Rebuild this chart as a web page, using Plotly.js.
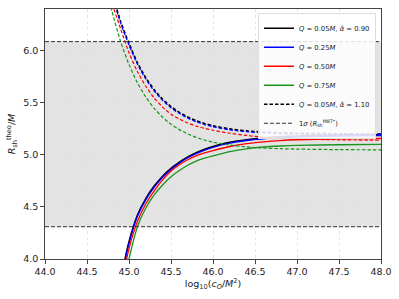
<!DOCTYPE html>
<html><head><meta charset="utf-8">
<script src="https://cdn.plot.ly/plotly-3.0.1.min.js"></script>
<style>html,body{margin:0;padding:0;background:#fff}#c{width:399px;height:299px}</style>
</head><body><div id="c"></div>
<script>
var xs = [44.8, 44.9, 45.0, 45.1, 45.2, 45.3, 45.4, 45.5, 45.6, 45.7, 45.8, 45.9, 46.0, 46.2, 46.4, 46.6, 46.8, 47.0, 47.5, 48.0];
var xsGreenDash = [44.7, 44.8, 44.9, 45.0, 45.1, 45.2, 45.3, 45.4, 45.5, 45.6, 45.7, 45.8, 45.9, 46.0, 46.2, 46.4, 46.6, 46.8, 47.0, 47.5, 48.0];

// solid curves (alpha = 0.90)
var blackSolid = [3.30, 3.785, 4.165, 4.42, 4.58, 4.70, 4.795, 4.87, 4.93, 4.98, 5.02, 5.053, 5.08, 5.12, 5.145, 5.162, 5.173, 5.18, 5.189, 5.193];
var blueSolid  = [3.28, 3.77, 4.15, 4.41, 4.57, 4.69, 4.785, 4.86, 4.921, 4.972, 5.012, 5.045, 5.072, 5.112, 5.137, 5.154, 5.165, 5.172, 5.181, 5.185];
var redSolid   = [3.20, 3.70, 4.10, 4.36, 4.53, 4.655, 4.76, 4.845, 4.905, 4.953, 4.99, 5.018, 5.041, 5.08, 5.108, 5.125, 5.137, 5.145, 5.153, 5.157];
var greenSolid = [3.10, 3.60, 4.00, 4.31, 4.49, 4.615, 4.71, 4.79, 4.85, 4.90, 4.94, 4.968, 4.99, 5.03, 5.058, 5.075, 5.085, 5.091, 5.097, 5.10];

// dashed curves (alpha = 1.10)
var blackDash = [6.55, 6.28, 6.07, 5.885, 5.74, 5.625, 5.534, 5.463, 5.407, 5.363, 5.328, 5.301, 5.279, 5.249, 5.230, 5.219, 5.212, 5.207, 5.202, 5.200];
var blueDash  = [6.535, 6.265, 6.055, 5.872, 5.728, 5.613, 5.523, 5.452, 5.397, 5.353, 5.318, 5.291, 5.270, 5.240, 5.222, 5.211, 5.205, 5.201, 5.197, 5.196];
var redDash   = [6.45, 6.21, 5.98, 5.80, 5.658, 5.545, 5.458, 5.39, 5.343, 5.306, 5.276, 5.254, 5.236, 5.207, 5.186, 5.170, 5.159, 5.152, 5.144, 5.140];
var greenDash = [6.73, 6.37, 6.088, 5.866, 5.691, 5.554, 5.446, 5.361, 5.294, 5.242, 5.200, 5.168, 5.142, 5.122, 5.094, 5.076, 5.065, 5.059, 5.055, 5.050, 5.048];

// 1 sigma band of M87* shadow radius
var bandX = [44.0, 48.0];
var bandLow = 4.31;
var bandHigh = 6.087;

var labels = ["<i>Q</i> = 0.05<i>M</i>, <i>α̂</i> = 0.90", "<i>Q</i> = 0.25<i>M</i>", "<i>Q</i> = 0.50<i>M</i>", "<i>Q</i> = 0.75<i>M</i>",
              "<i>Q</i> = 0.05<i>M</i>, <i>α̂</i> = 1.10", "1<i>σ</i> (<i>R</i><sub>sh</sub><sup>M87*</sup>)"];

var colBlack = "#000000", colBlue = "#0000ff", colRed = "#ff0000", colGreen = "#1a941a";
var dashPat = "3.5px,2px";

function ln(color, width, dash) {
  var o = {color: color, width: width, shape: "spline", smoothing: 0.6};
  if (dash) o.dash = dash;
  return o;
}

var traces = [
  {x: xs, y: blackSolid, mode: "lines", line: ln(colBlack, 1.6), name: labels[0], legendrank: 1},
  {x: xs, y: blueSolid, mode: "lines", line: ln(colBlue, 1.4), name: labels[1], legendrank: 2},
  {x: xs, y: redSolid, mode: "lines", line: ln(colRed, 1.3), name: labels[2], legendrank: 3},
  {x: xs, y: greenSolid, mode: "lines", line: ln(colGreen, 1.3), name: labels[3], legendrank: 4},
  {x: xs, y: blackDash, mode: "lines", line: ln(colBlack, 1.6, dashPat), name: labels[4], legendrank: 5},
  {x: xs, y: blueDash, mode: "lines", line: ln(colBlue, 1.3, dashPat), showlegend: false},
  {x: xs, y: redDash, mode: "lines", line: ln(colRed, 1.2, dashPat), showlegend: false},
  {x: xsGreenDash, y: greenDash, mode: "lines", line: ln(colGreen, 1.2, dashPat), showlegend: false},
  {x: bandX, y: [bandLow, bandLow], mode: "lines", line: {color: "#333", width: 1, dash: "4px,2px"}, showlegend: false, hoverinfo: "skip"},
  {x: bandX, y: [bandHigh, bandHigh], mode: "lines", line: {color: "#333", width: 1, dash: "4px,2px"}, name: labels[5], legendrank: 6}
];

var axisCommon = {
  showline: true, mirror: true, linecolor: "#444", linewidth: 1.2,
  ticks: "outside", ticklen: 3.5, tickwidth: 1, tickcolor: "#444",
  showgrid: true, gridcolor: "#dddddd", griddash: "dot", gridwidth: 0.8,
  zeroline: false, tickfont: {size: 9.5, color: "#222"}
};

var layout = {
  width: 399, height: 299,
  margin: {l: 45, r: 18, t: 9, b: 40},
  paper_bgcolor: "#fff", plot_bgcolor: "#fff",
  font: {family: "DejaVu Sans, sans-serif", color: "#222"},
  showlegend: true,
  shapes: [{type: "rect", xref: "x", yref: "y", x0: bandX[0], x1: bandX[1], y0: bandLow, y1: bandHigh,
            fillcolor: "#e3e3e3", line: {width: 0}, layer: "below"}],
  legend: {x: 0.985, y: 0.985, xanchor: "right", yanchor: "top",
           bgcolor: "rgba(255,255,255,0.85)", bordercolor: "#dddddd", borderwidth: 1,
           font: {size: 6.8}, itemwidth: 30, tracegroupgap: 0, traceorder: "normal"},
  xaxis: Object.assign({}, axisCommon, {range: [44, 48], dtick: 0.5, tickformat: ".1f",
    title: {text: "log<sub>10</sub>(<i>c<sub>O</sub></i>/<i>M</i><sup>2</sup>)", font: {size: 9.5}, standoff: 4}}),
  yaxis: Object.assign({}, axisCommon, {range: [4, 6.4], dtick: 0.5, tickformat: ".1f",
    title: {text: "<i>R</i><sub>sh</sub><sup>theo</sup>/<i>M</i>", font: {size: 9.5}, standoff: 6}})
};

Plotly.newPlot("c", traces, layout, {displayModeBar: false, staticPlot: true});
</script>
</body></html>
